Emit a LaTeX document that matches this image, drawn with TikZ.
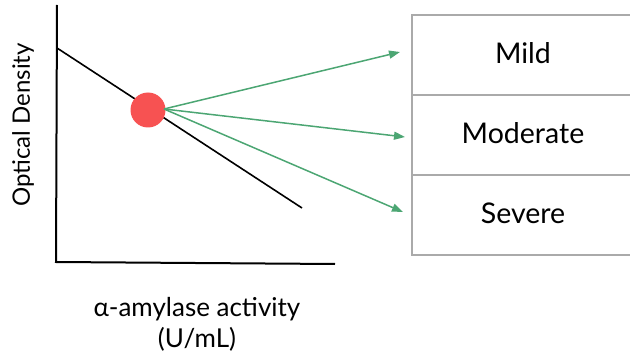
\documentclass[tikz,border=0pt]{standalone}
\usepackage{fontspec}
\setmainfont{Lato}
\usetikzlibrary{arrows.meta}
\definecolor{arrowgreen}{HTML}{4CA673}
\definecolor{dotred}{HTML}{F75252}
\definecolor{boxgray}{HTML}{AAAAAA}
\tikzset{
  axis/.style={draw=black, line width=2pt},
  trend/.style={draw=black, line width=1.6pt},
  pointer/.style={draw=arrowgreen, line width=1.5pt, -{Triangle[length=11pt,width=8pt]}},
  cell/.style={draw=boxgray, line width=2pt, minimum width=240pt, minimum height=80pt, anchor=north west, inner sep=0pt},
  celltext/.style={font=\fontsize{28.5}{32}\selectfont},
  axislabel/.style={font=\fontsize{26}{31}\selectfont, align=center},
  ylab/.style={font=\fontsize{24}{28}\selectfont}
}
\begin{document}
\begin{tikzpicture}[x=1pt,y=-1pt]
  \useasboundingbox (0,0) rectangle (630,353);
  % axes
  \coordinate (ytop) at (57,5);
  \coordinate (origin) at (56,262);
  \coordinate (xend) at (335,264);
  \draw[axis] (ytop) -- (origin) -- (xend);
  % trend line
  \coordinate (tstart) at (57,48);
  \coordinate (tend) at (302,208);
  \draw[trend] (tstart) -- (tend);
  % table
  \node[cell] (mild) at (411,14) {};
  \node[cell] (moderate) at (411,94) {};
  \node[cell] (severe) at (411,174) {};
  \node[celltext] (mildt) at (523,53) {Mild};
  \node[celltext] (moderatet) at (523,133) {Moderate};
  \node[celltext] (severet) at (523,213) {Severe};
  % targets
  \coordinate (a1) at (400,52);
  \coordinate (a2) at (405,137);
  \coordinate (a3) at (403,212);
  % dot
  \node[circle, fill=dotred, minimum size=35pt, inner sep=0pt] (dot) at (148,110) {};
  \coordinate (src) at (164,109);
  \draw[pointer] (src) -- (a1);
  \draw[pointer] (src) -- (a2);
  \draw[pointer] (src) -- (a3);
  % labels
  \node[ylab, rotate=90] (ylabel) at (23,125) {Optical Density};
  \node[axislabel] (xlabel) at (197,324) {α-amylase activity\\(U/mL)};
\end{tikzpicture}
\end{document}
